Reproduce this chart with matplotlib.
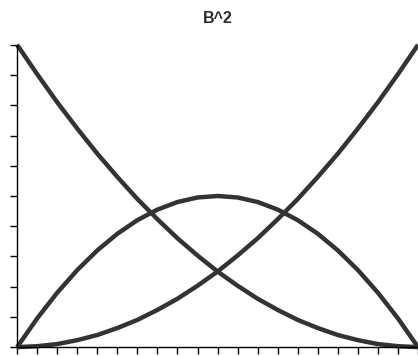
import numpy as np
import matplotlib.pyplot as plt

# parameter t and the three quadratic Bernstein basis curves
t = [0.0, 0.05, 0.1, 0.15, 0.2, 0.25, 0.3, 0.35, 0.4, 0.45, 0.5,
     0.55, 0.6, 0.65, 0.7, 0.75, 0.8, 0.85, 0.9, 0.95, 1.0]
b0 = [1.0, 0.903, 0.81, 0.723, 0.64, 0.563, 0.49, 0.423, 0.36, 0.303, 0.25,
      0.203, 0.16, 0.123, 0.09, 0.063, 0.04, 0.023, 0.01, 0.003, 0.0]
b1 = [0.0, 0.095, 0.18, 0.255, 0.32, 0.375, 0.42, 0.455, 0.48, 0.495, 0.5,
      0.495, 0.48, 0.455, 0.42, 0.375, 0.32, 0.255, 0.18, 0.095, 0.0]
b2 = [0.0, 0.003, 0.01, 0.023, 0.04, 0.063, 0.09, 0.123, 0.16, 0.203, 0.25,
      0.303, 0.36, 0.423, 0.49, 0.563, 0.64, 0.723, 0.81, 0.903, 1.0]

fig = plt.figure(figsize=(4.18, 3.56), dpi=100)
ax = fig.add_axes([0.041, 0.025, 0.959, 0.849])

for ys in (b0, b1, b2):
    ax.plot(t, ys, color="#333333", lw=3.2, clip_on=False, solid_capstyle="butt")

ax.set_xlim(0, 1)
ax.set_ylim(0, 1)
ax.set_xticks(np.arange(0, 1.001, 0.05))
ax.set_yticks(np.arange(0, 1.001, 0.1))
ax.set_xticklabels([])
ax.set_yticklabels([])
ax.tick_params(direction="out", length=5, width=1, color="black")
for side in ("top", "right"):
    ax.spines[side].set_visible(False)
for side in ("left", "bottom"):
    ax.spines[side].set_linewidth(1)

fig.text(0.522, 0.947, "B^2", ha="center", va="center", fontsize=11.5,
         family="Liberation Sans", weight="bold", color="#2a2a2a")

plt.savefig("out.png", dpi=100)
